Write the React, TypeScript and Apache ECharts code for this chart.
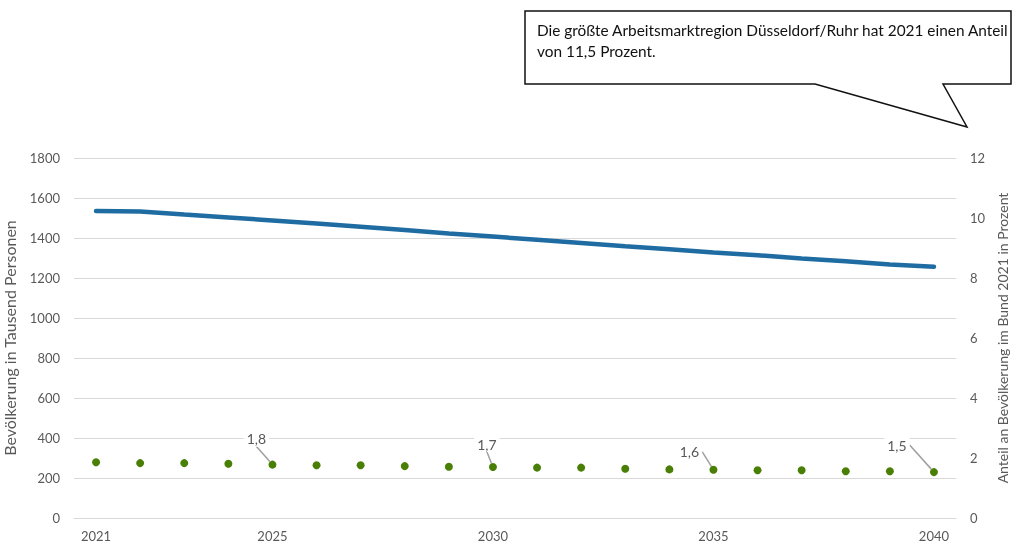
import React, { useEffect, useRef } from "react";
import * as echarts from "echarts";

const years = ["2021","2022","2023","2024","2025","2026","2027","2028","2029","2030","2031","2032","2033","2034","2035","2036","2037","2038","2039","2040"];
const population = [1535, 1533, 1517, 1503, 1488, 1472, 1456, 1440, 1423, 1407, 1391, 1375, 1359, 1344, 1328, 1314, 1298, 1284, 1268, 1256];
const share = [1.86, 1.83, 1.83, 1.81, 1.78, 1.76, 1.76, 1.73, 1.71, 1.70, 1.68, 1.68, 1.64, 1.62, 1.61, 1.59, 1.59, 1.56, 1.56, 1.53];
const labeledYears = ["2025", "2030", "2035", "2040"];
const xTickYears = ["2021", "2025", "2030", "2035", "2040"];
const leftAxisName = "Bevölkerung in Tausend Personen";
const rightAxisName = "Anteil an Bevölkerung im Bund 2021 in Prozent";
const calloutLines = ["Die größte Arbeitsmarktregion Düsseldorf/Ruhr hat 2021 einen Anteil", "von 11,5 Prozent."];

const labelOffsets: Record<string, [number, number]> = {
  "2025": [-16, -26],
  "2030": [-6, -23],
  "2035": [-24, -18],
  "2040": [-37, -27],
};

const FONT = "Lato, 'Noto Sans', sans-serif";
const GREY = "#595959";

export default function App() {
  const ref = useRef<HTMLDivElement>(null);
  useEffect(() => {
    if (!ref.current) return;
    const chart = echarts.init(ref.current, undefined, { renderer: "svg" });
    const fmt = (v: number) => v.toFixed(1).replace(".", ",");
    chart.setOption({
      animation: false,
      textStyle: { fontFamily: FONT },
      grid: { left: 74, right: 56, top: 158, bottom: 24, outerBoundsMode: "none", containLabel: false },
      xAxis: {
        type: "category",
        data: years,
        boundaryGap: true,
        axisLine: { lineStyle: { color: "#d9d9d9" } },
        axisTick: { show: false },
        axisLabel: {
          color: GREY,
          fontSize: 13,
          margin: 11,
          interval: (i: number, v: string) => xTickYears.includes(v),
        },
      },
      yAxis: [
        {
          type: "value",
          min: 0,
          max: 1800,
          interval: 200,
          name: leftAxisName,
          nameLocation: "middle",
          nameRotate: 90,
          nameGap: 57,
          nameTextStyle: { color: GREY, fontSize: 16, fontFamily: FONT },
          axisLine: { show: false },
          axisTick: { show: false },
          axisLabel: { color: GREY, fontSize: 13, margin: 14, formatter: (v: number) => String(v) },
          splitLine: { lineStyle: { color: "#d9d9d9" } },
        },
        {
          type: "value",
          min: 0,
          max: 12,
          interval: 2,
          name: rightAxisName,
          nameLocation: "middle",
          nameRotate: 90,
          nameGap: 38,
          nameTextStyle: { color: GREY, fontSize: 14, fontFamily: FONT },
          axisLine: { show: false },
          axisTick: { show: false },
          axisLabel: { color: GREY, fontSize: 13, margin: 14 },
          splitLine: { show: false },
        },
      ],
      series: [
        {
          type: "line",
          yAxisIndex: 0,
          data: population,
          symbol: "none",
          lineStyle: { color: "#1f6ca3", width: 4.5, cap: "round" },
          z: 2,
        },
        {
          type: "scatter",
          yAxisIndex: 1,
          data: share.map((v, i) => ({
            value: v,
            label: {
              show: labeledYears.includes(years[i]),
              formatter: () => fmt(v),
            },
          })),
          symbolSize: 8,
          itemStyle: { color: "#4a7f05", opacity: 1 },
          label: {
            position: "inside",
            color: GREY,
            fontSize: 14,
            backgroundColor: "#fff",
            padding: [1, 3],
          },
          labelLine: { show: true, lineStyle: { color: "#a0a0a0", width: 1.5 } },
          labelLayout: (p: any) => {
            const y = years[p.dataIndex];
            const o = labelOffsets[y];
            return o ? { dx: o[0], dy: o[1] } : {};
          },
          z: 3,
        },
      ],
      graphic: [
        {
          type: "polygon",
          shape: {
            points: [[525, 11], [1011, 11], [1011, 84], [943, 84], [967, 127], [815, 84], [525, 84]],
          },
          style: { fill: "#fff", stroke: "#111", lineWidth: 1.5 },
          z: 10,
        },
        {
          type: "text",
          left: 537,
          top: 19,
          style: {
            text: calloutLines.join("\n"),
            fill: "#111",
            font: `15.4px ${FONT}`,
            lineHeight: 21,
          },
          z: 11,
        },
      ],
    });
    return () => chart.dispose();
  }, []);
  return <div ref={ref} style={{ position: "fixed", left: 0, top: 0, width: 1012, height: 542 }} />;
}
